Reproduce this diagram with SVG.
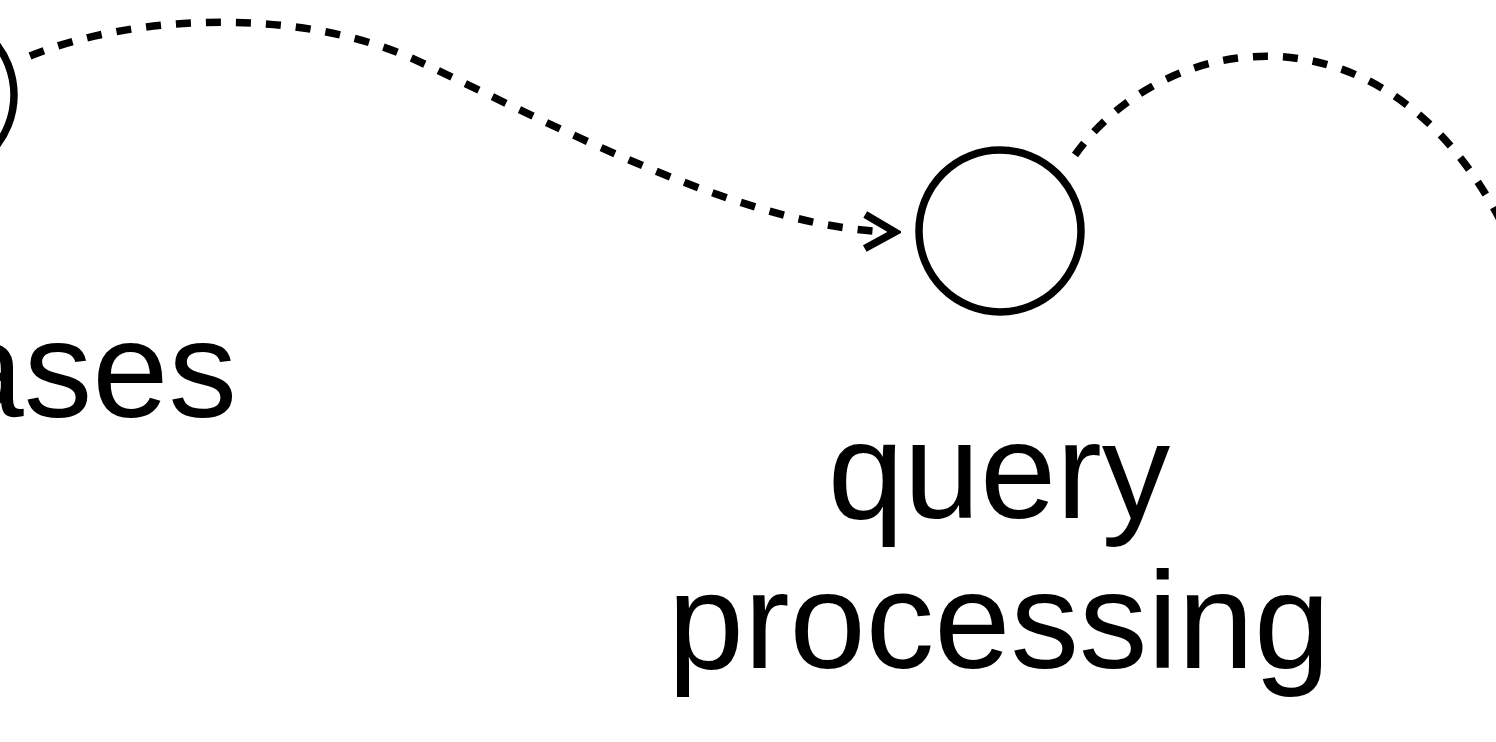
<svg xmlns="http://www.w3.org/2000/svg" width="1496" height="742" viewBox="0 0 1496 742">
  <style>
    .node { fill: none; stroke: #000; stroke-width: 7.5; }
    .edge { fill: none; stroke: #000; stroke-width: 7.5; stroke-dasharray: 15 15; }
    .label { font-family: "Liberation Sans", Arial, sans-serif; font-size: 137px; fill: #000; }
  </style>
  <defs>
    <marker id="arrow" markerUnits="userSpaceOnUse" markerWidth="40" markerHeight="44" viewBox="-34 -22 40 44" refX="0" refY="0" orient="auto">
      <path d="M -30 -17 L 0 0 L -30 17" fill="none" stroke="#000" stroke-width="7.5"/>
    </marker>
  </defs>

  <rect width="1496" height="742" fill="#fff"/>

  <g id="connectors">
    <path class="edge" d="M 30 56 C 130 15, 300 5, 420 62 C 560 128, 750 230, 895 232" marker-end="url(#arrow)"/>
    <path class="edge" d="M 1075 155 C 1165 28, 1395 -8, 1510 240"/>
  </g>

  <g id="node-databases">
    <circle class="node" cx="-68" cy="95" r="82"/>
    <text class="label" x="237" y="417" text-anchor="end">ases</text>
  </g>

  <g id="node-query-processing">
    <circle class="node" cx="1000" cy="231" r="81"/>
    <text class="label" x="999" y="518" text-anchor="middle">query</text>
    <text class="label" x="999" y="668" text-anchor="middle">processing</text>
  </g>
</svg>
